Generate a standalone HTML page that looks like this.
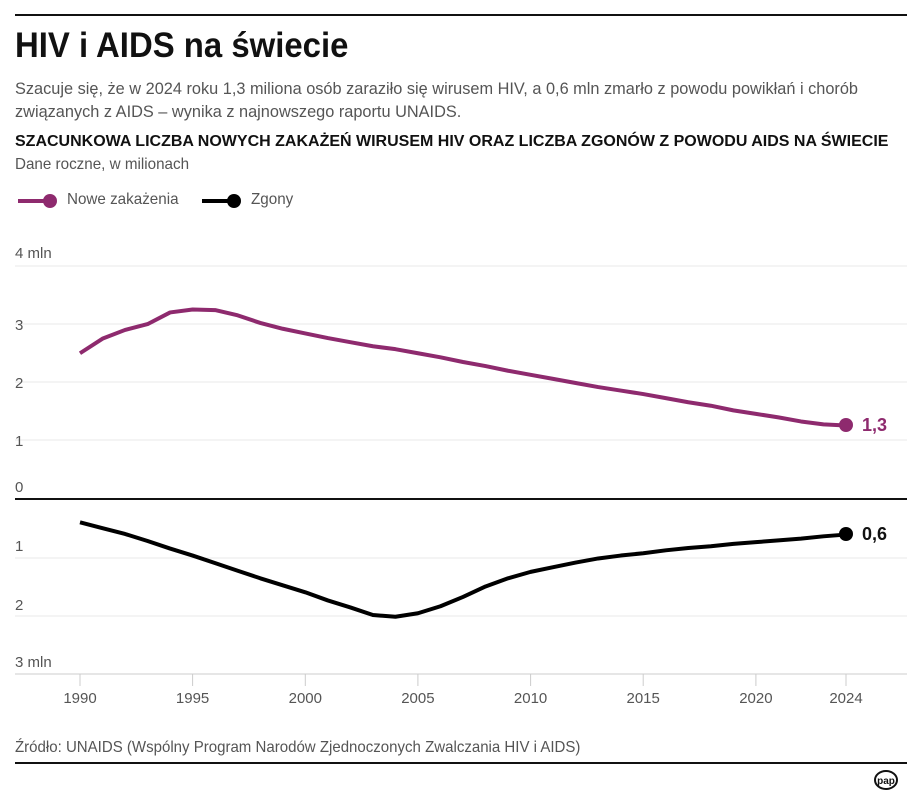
<!DOCTYPE html>
<html><head><meta charset="utf-8"><style>
body{margin:0;width:915px;height:800px;background:#fff;font-family:"Liberation Sans",sans-serif;overflow:hidden;position:relative}
.t{position:absolute;white-space:nowrap;transform-origin:0 0}
</style></head><body>
<div style="position:absolute;left:15px;top:14px;width:892px;height:2px;background:#111"></div>
<div class="t" style="left:15px;top:26px;font-size:35px;font-weight:bold;color:#111;transform:scaleX(0.94)">HIV i AIDS na świecie</div>
<div class="t" style="left:15px;top:77px;font-size:17px;color:#555;line-height:23px;transform:scaleX(0.96)">Szacuje się, że w 2024 roku 1,3 miliona osób zaraziło się wirusem HIV, a 0,6 mln zmarło z powodu powikłań i chorób<br>związanych z AIDS – wynika z najnowszego raportu UNAIDS.</div>
<div class="t" style="left:15px;top:133px;font-size:16px;font-weight:bold;color:#111;transform:scaleX(1.0)">SZACUNKOWA LICZBA NOWYCH ZAKAŻEŃ WIRUSEM HIV ORAZ LICZBA ZGONÓW Z POWODU AIDS NA ŚWIECIE</div>
<div class="t" style="left:15px;top:156px;font-size:16px;color:#555;transform:scaleX(0.95)">Dane roczne, w milionach</div>
<div class="t" style="left:67px;top:191px;font-size:16px;color:#555;transform:scaleX(0.95)">Nowe zakażenia</div>
<div class="t" style="left:251px;top:191px;font-size:16px;color:#555;transform:scaleX(0.95)">Zgony</div>
<svg width="915" height="800" style="position:absolute;left:0;top:0" font-family="Liberation Sans, sans-serif">
<line x1="18" y1="201" x2="48" y2="201" stroke="#8e2a6e" stroke-width="4"/><circle cx="50" cy="201" r="7" fill="#8e2a6e"/>
<line x1="202" y1="201" x2="232" y2="201" stroke="#000" stroke-width="4"/><circle cx="234" cy="201" r="7" fill="#000"/>
<g stroke="#e8e8e8" stroke-width="1">
<line x1="15" y1="266" x2="907" y2="266"/><line x1="15" y1="324" x2="907" y2="324"/><line x1="15" y1="382" x2="907" y2="382"/><line x1="15" y1="440" x2="907" y2="440"/>
<line x1="15" y1="558" x2="907" y2="558"/><line x1="15" y1="616" x2="907" y2="616"/></g>
<line x1="15" y1="674" x2="907" y2="674" stroke="#ccc"/>
<line x1="15" y1="499" x2="907" y2="499" stroke="#111" stroke-width="2"/>
<g stroke="#ccc"><line x1="80" y1="674" x2="80" y2="686"/><line x1="192.6" y1="674" x2="192.6" y2="686"/><line x1="305.3" y1="674" x2="305.3" y2="686"/><line x1="417.9" y1="674" x2="417.9" y2="686"/><line x1="530.6" y1="674" x2="530.6" y2="686"/><line x1="643.2" y1="674" x2="643.2" y2="686"/><line x1="755.9" y1="674" x2="755.9" y2="686"/><line x1="846" y1="674" x2="846" y2="686"/></g>
<g font-size="15" fill="#555">
<text x="15" y="258">4 mln</text><text x="15" y="330">3</text><text x="15" y="388">2</text><text x="15" y="446">1</text><text x="15" y="492">0</text>
<text x="15" y="551">1</text><text x="15" y="610">2</text><text x="15" y="667">3 mln</text>
<g text-anchor="middle"><text x="80" y="703">1990</text><text x="192.6" y="703">1995</text><text x="305.3" y="703">2000</text><text x="417.9" y="703">2005</text><text x="530.6" y="703">2010</text><text x="643.2" y="703">2015</text><text x="755.9" y="703">2020</text><text x="846" y="703">2024</text></g>
</g>
<g transform="translate(80,499) scale(22.53,-58.3)">
<polyline fill="none" stroke="#8e2a6e" stroke-width="4" vector-effect="non-scaling-stroke" stroke-linejoin="round" points="0,2.5 1,2.75 2,2.9 3,3.0 4,3.2 5,3.25 6,3.24 7,3.15 8,3.02 9,2.92 10,2.84 11,2.76 12,2.69 13,2.62 14,2.57 15,2.5 16,2.43 17,2.35 18,2.28 19,2.2 20,2.13 21,2.06 22,1.99 23,1.92 24,1.86 25,1.8 26,1.73 27,1.66 28,1.6 29,1.52 30,1.46 31,1.4 32,1.33 33,1.28 34,1.26"/>
</g>
<g transform="translate(80,499) scale(22.53,58.3)">
<polyline fill="none" stroke="#000" stroke-width="4" vector-effect="non-scaling-stroke" stroke-linejoin="round" points="0,0.4 1,0.5 2,0.6 3,0.72 4,0.85 5,0.97 6,1.1 7,1.23 8,1.36 9,1.48 10,1.6 11,1.74 12,1.86 13,1.99 14,2.02 15,1.96 16,1.84 17,1.68 18,1.5 19,1.36 20,1.25 21,1.17 22,1.09 23,1.02 24,0.97 25,0.93 26,0.88 27,0.84 28,0.81 29,0.77 30,0.74 31,0.71 32,0.68 33,0.64 34,0.61"/>
</g>
<circle cx="846" cy="425" r="7" fill="#8e2a6e"/><circle cx="846" cy="534" r="7" fill="#000"/>
<text x="862" y="431" font-size="18" font-weight="bold" fill="#8e2a6e">1,3</text>
<text x="862" y="540" font-size="18" font-weight="bold" fill="#111">0,6</text>
<text x="15" y="752" font-size="16" fill="#555" transform="translate(15,0) scale(0.94,1) translate(-15,0)">Źródło: UNAIDS (Wspólny Program Narodów Zjednoczonych Zwalczania HIV i AIDS)</text>
<line x1="15" y1="763" x2="907" y2="763" stroke="#111" stroke-width="2"/>
<ellipse cx="886" cy="780" rx="11" ry="9" fill="#fff" stroke="#111" stroke-width="2"/>
<text x="886" y="784" font-size="10" font-weight="bold" text-anchor="middle" fill="#111">pap</text>
</svg>
</body></html>
